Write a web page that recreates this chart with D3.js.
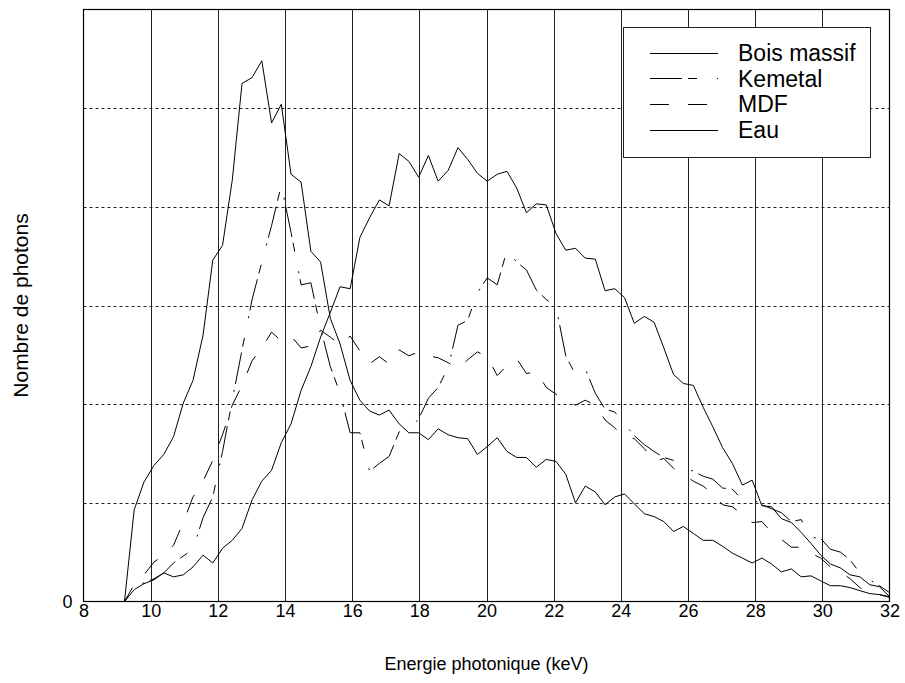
<!DOCTYPE html>
<html>
<head>
<meta charset="utf-8">
<script src="https://cdn.jsdelivr.net/npm/d3@7"></script>
<style>
  html, body { margin: 0; padding: 0; background: #fff; }
  svg { display: block; font-family: Arial, "Liberation Sans", sans-serif; }
</style>
</head>
<body>
<svg id="chart" width="905" height="683"></svg>
<script>
// Photon energy (keV)
const energy = [8.00, 9.22, 9.51, 9.80, 10.10, 10.39, 10.68, 10.97, 11.26, 11.56, 11.85, 12.14, 12.43, 12.72, 13.02, 13.31, 13.60, 13.89, 14.18, 14.48, 14.77, 15.06, 15.35, 15.64, 15.94, 16.23, 16.52, 16.81, 17.10, 17.40, 17.69, 17.98, 18.27, 18.56, 18.86, 19.15, 19.44, 19.73, 20.02, 20.32, 20.61, 20.90, 21.19, 21.48, 21.78, 22.07, 22.36, 22.65, 22.94, 23.24, 23.53, 23.82, 24.11, 24.40, 24.70, 24.99, 25.28, 25.57, 25.86, 26.16, 26.45, 26.74, 27.03, 27.32, 27.62, 27.91, 28.20, 28.49, 28.78, 29.08, 29.37, 29.66, 29.95, 30.24, 30.54, 30.83, 31.12, 31.41, 31.70, 32.00];

const boisMassif = [0, 0, 93, 121, 138, 149, 167, 201, 224, 270, 346, 361, 427, 525, 531, 548, 485, 504, 433, 425, 355, 344, 287, 261, 224, 204, 193, 189, 194, 180, 171, 171, 164, 175, 169, 166, 165, 149, 157, 166, 152, 146, 146, 136, 144, 142, 129, 100, 117, 111, 98, 106, 109, 99, 89, 86, 81, 71, 76, 69, 62, 62, 56, 49, 44, 39, 44, 38, 30, 33, 25, 26, 21, 16, 16, 14, 11, 8, 7, 5];

const kemetal = [0, 0, 14, 19, 23, 29, 39, 46, 53, 85, 106, 152, 204, 255, 306, 344, 381, 422, 374, 321, 323, 277, 238, 211, 171, 171, 132, 140, 147, 172, 174, 185, 206, 217, 237, 280, 285, 313, 328, 321, 356, 344, 336, 316, 306, 299, 249, 230, 236, 211, 195, 192, 180, 168, 159, 152, 146, 143, 137, 132, 127, 124, 115, 114, 103, 104, 98, 94, 90, 81, 83, 65, 64, 53, 50, 42, 29, 22, 16, 9];

const mdf = [0, 0, 17, 27, 40, 47, 57, 80, 106, 122, 143, 169, 199, 219, 244, 257, 273, 264, 269, 257, 259, 275, 268, 260, 269, 254, 241, 248, 241, 255, 249, 253, 249, 247, 242, 236, 245, 253, 248, 229, 239, 246, 231, 233, 217, 210, 204, 199, 204, 199, 184, 176, 167, 165, 155, 142, 145, 135, 129, 122, 117, 109, 98, 96, 88, 80, 81, 70, 63, 55, 55, 49, 44, 35, 30, 23, 14, 9, 7, 4];

const eau = [0, 0, 12, 18, 22, 29, 25, 27, 35, 47, 39, 54, 62, 74, 103, 122, 133, 161, 180, 214, 238, 268, 293, 319, 317, 369, 389, 407, 401, 454, 446, 430, 452, 426, 437, 460, 448, 434, 426, 433, 436, 419, 394, 403, 402, 373, 356, 358, 348, 347, 315, 317, 308, 282, 289, 283, 257, 230, 221, 219, 197, 177, 156, 140, 118, 123, 97, 96, 84, 80, 70, 59, 47, 38, 34, 27, 25, 17, 15, 5];

const seriesNames = ["Bois massif", "Kemetal", "MDF", "Eau"];
const seriesDash = ["none", "32,6,9,20,2,6", "19,19", "none"];
const xTicks = [8, 10, 12, 14, 16, 18, 20, 22, 24, 26, 28, 30, 32];
const yGrid = [100, 200, 300, 400, 500];
const yTickLabels = [0];
const xTitle = "Energie photonique (keV)";
const yTitle = "Nombre de photons";

const allSeries = [boisMassif, kemetal, mdf, eau];

(function draw() {
  const svg = d3.select("#chart");
  const pL = 83.5, pR = 889.5, pT = 9.5, pB = 601.5;
  const FONT = "Arial, 'Liberation Sans', sans-serif";

  const x = d3.scaleLinear().domain([8, 32]).range([pL, pR]);
  const y = d3.scaleLinear().domain([0, 600]).range([pB, pT]);

  // vertical solid grid lines
  svg.append("g").selectAll("line").data(xTicks.slice(1, -1)).join("line")
    .attr("x1", d => Math.round(x(d)) + 0.5).attr("x2", d => Math.round(x(d)) + 0.5)
    .attr("y1", pT).attr("y2", pB)
    .attr("stroke", "#222").attr("stroke-width", 1);

  // horizontal dotted grid lines
  svg.append("g").selectAll("line").data(yGrid).join("line")
    .attr("x1", pL).attr("x2", pR)
    .attr("y1", d => Math.round(y(d)) + 0.5).attr("y2", d => Math.round(y(d)) + 0.5)
    .attr("stroke", "#222").attr("stroke-width", 1)
    .attr("stroke-dasharray", "3,3");

  // curves
  const line = d3.line().x((d, i) => x(energy[i])).y(d => y(d));
  svg.append("clipPath").attr("id", "clip").append("rect")
    .attr("x", pL).attr("y", pT).attr("width", pR - pL).attr("height", pB - pT);

  svg.append("g").attr("clip-path", "url(#clip)")
    .selectAll("path").data(allSeries).join("path")
    .attr("d", d => line(d))
    .attr("fill", "none")
    .attr("stroke", "#000")
    .attr("stroke-width", 1)
    .attr("stroke-dasharray", (d, i) => seriesDash[i]);

  // axes
  const xAxis = d3.axisBottom(x).tickValues(xTicks).tickSize(0).tickPadding(2);
  const gx = svg.append("g").attr("transform", `translate(0,${pB})`).call(xAxis);
  gx.select(".domain").remove();
  gx.selectAll("text").attr("font-size", 18).attr("font-family", FONT).attr("fill", "#000").attr("dy", "0.75em");

  const yAxis = d3.axisLeft(y).tickValues(yTickLabels).tickSize(0).tickPadding(11);
  const gy = svg.append("g").attr("transform", `translate(${pL},0)`).call(yAxis);
  gy.select(".domain").remove();
  gy.selectAll("text").attr("font-size", 18).attr("font-family", FONT).attr("fill", "#000");

  svg.append("rect")
    .attr("x", pL).attr("y", pT).attr("width", pR - pL).attr("height", pB - pT)
    .attr("fill", "none").attr("stroke", "#000").attr("stroke-width", 1.2);

  // titles
  svg.append("text").attr("x", (pL + pR) / 2).attr("y", 670)
    .attr("text-anchor", "middle").attr("font-size", 18).attr("font-family", FONT).text(xTitle);
  svg.append("text").attr("transform", `translate(28,${(pT + pB) / 2}) rotate(-90)`)
    .attr("text-anchor", "middle").attr("font-size", 21).attr("font-family", FONT).text(yTitle);

  // legend
  const lg = svg.append("g");
  lg.append("rect").attr("x", 623.5).attr("y", 27.5).attr("width", 247).attr("height", 130)
    .attr("fill", "#fff").attr("stroke", "#222").attr("stroke-width", 1);
  const rowY = i => 52.5 + i * 25.8;
  lg.selectAll("line.item").data(seriesNames).join("line").attr("class", "item")
    .attr("x1", 650).attr("x2", 718)
    .attr("y1", (d, i) => Math.round(rowY(i)) + 0.5).attr("y2", (d, i) => Math.round(rowY(i)) + 0.5)
    .attr("stroke", "#000").attr("stroke-width", 1)
    .attr("stroke-dasharray", (d, i) => seriesDash[i]);
  lg.selectAll("text").data(seriesNames).join("text")
    .attr("x", 738).attr("y", (d, i) => rowY(i)).attr("dy", "0.36em")
    .attr("font-size", 23).attr("font-family", FONT).text(d => d);
})();
</script>
</body>
</html>
